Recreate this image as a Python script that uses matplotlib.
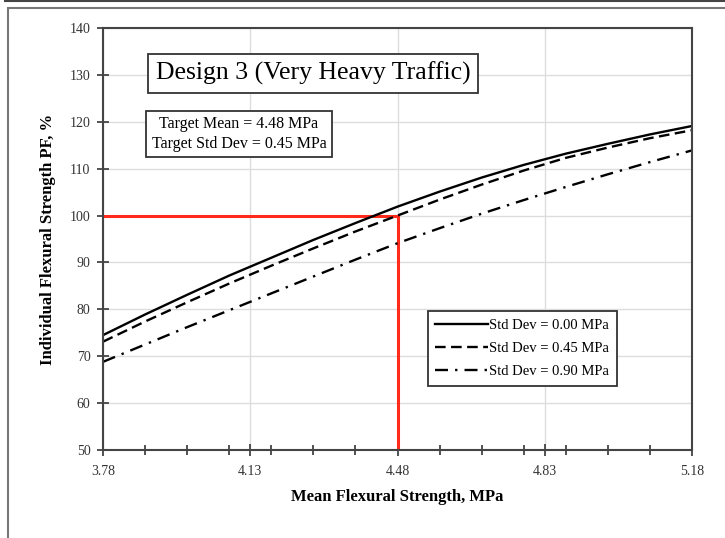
import matplotlib
matplotlib.use("Agg")
import matplotlib.pyplot as plt
from matplotlib.lines import Line2D
from matplotlib.patches import Rectangle

plt.rcParams['font.family'] = ['Liberation Serif', 'DejaVu Serif']

# mean flexural strength, MPa
mean_strength = [3.78, 3.88, 3.98, 4.08, 4.18, 4.28, 4.38, 4.48,
                 4.58, 4.68, 4.78, 4.88, 4.98, 5.08, 5.18]
# individual strength PF (%) for each std dev
pf_sd000 = [74.5, 78.9, 83.1, 87.2, 91.0, 94.8, 98.4, 101.9,
            105.1, 108.1, 110.8, 113.2, 115.3, 117.3, 119.1]
pf_sd045 = [73.1, 77.4, 81.5, 85.5, 89.3, 93.0, 96.6, 100.0,
            103.4, 106.6, 109.6, 112.3, 114.5, 116.5, 118.2]
pf_sd090 = [68.8, 72.5, 76.2, 79.8, 83.4, 87.0, 90.6, 94.1,
            97.3, 100.4, 103.3, 106.1, 108.8, 111.4, 113.9]
labels = ["Std Dev = 0.00 MPa", "Std Dev = 0.45 MPa", "Std Dev = 0.90 MPa"]

target_mean = 4.48
target_pf = 100
x_ticks = [3.78, 4.13, 4.48, 4.83, 5.18]
y_ticks = list(range(50, 141, 10))

fig = plt.figure(figsize=(7.25, 5.38), dpi=100)

# outer frame of the page
fig.add_artist(Line2D([0.007, 1.0], [0.998, 0.998], transform=fig.transFigure,
                      color='#444444', lw=1.5))
fig.add_artist(Rectangle((8 / 725, -0.05), 1.2, 1 - 8 / 538 + 0.05,
                         transform=fig.transFigure, fill=False,
                         edgecolor='#777777', lw=1.5))

ax = fig.add_axes([103 / 725, 88 / 538, 589 / 725, 422 / 538])

ax.plot(mean_strength, pf_sd000, color='black', lw=1.7, label=labels[0])
ax.plot(mean_strength, pf_sd045, color='black', lw=1.7,
        linestyle=(0, (4.5, 2.3)), label=labels[1])
ax.plot(mean_strength, pf_sd090, color='black', lw=1.7,
        linestyle=(0, (5.5, 3, 1, 3)), label=labels[2])

# target lines
ax.plot([3.78, target_mean], [target_pf, target_pf], color='#ff2a1a', lw=2.2, zorder=1.5)
ax.plot([target_mean, target_mean], [50, target_pf], color='#ff2a1a', lw=2.2, zorder=1.5)

ax.set_xlim(3.78, 5.18)
ax.set_ylim(50, 140)
ax.set_xticks(x_ticks)
ax.set_xticklabels([f"{v:.2f}" for v in x_ticks])
ax.set_xticks([3.78 + 0.1 * i for i in range(15)], minor=True)
ax.set_yticks(y_ticks)
ax.grid(True, which='major', color='#dddddd', lw=1)
ax.set_axisbelow(True)
ax.tick_params(which='both', direction='inout', colors='#444444',
               labelcolor='#333333', labelsize=10, width=1.3)
ax.tick_params(which='major', length=8, pad=7)
ax.tick_params(which='minor', length=7)
ax.tick_params(axis='y', pad=5)
for s in ax.spines.values():
    s.set_color('#444444')
    s.set_linewidth(1.5)

ax.set_xlabel("Mean Flexural Strength, MPa", fontsize=12, fontweight='bold', labelpad=8)
ax.set_ylabel("Individual Flexural Strength PF, %", fontsize=12, fontweight='bold', labelpad=10)

ax.text(0.3565, 0.892, "Design 3 (Very Heavy Traffic)", transform=ax.transAxes,
        ha='center', va='center', fontsize=18.5,
        bbox=dict(boxstyle='square,pad=0.3', fc='white', ec='#333333', lw=1.3))
ax.text(0.231, 0.749, "Target Mean = 4.48 MPa\nTarget Std Dev = 0.45 MPa",
        transform=ax.transAxes, ha='center', va='center', fontsize=11.5,
        linespacing=1.3,
        bbox=dict(boxstyle='square,pad=0.35', fc='white', ec='#333333', lw=1.3))

leg = ax.legend(loc='upper left', bbox_to_anchor=(0.552, 0.329), fontsize=10.5,
                handlelength=3.6, handletextpad=0.1, fancybox=False,
                framealpha=1, edgecolor='#333333', borderpad=0.5,
                labelspacing=0.7, borderaxespad=0)
leg.get_frame().set_linewidth(1.3)

plt.savefig("out.png", dpi=100)
